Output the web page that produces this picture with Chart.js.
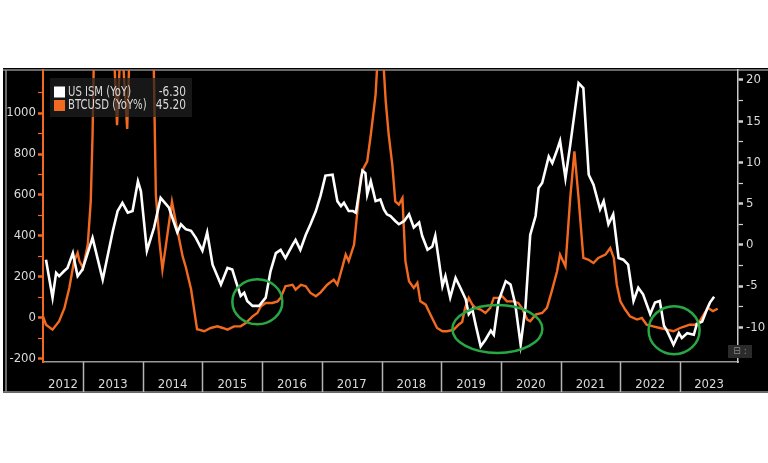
<!DOCTYPE html>
<html>
<head>
<meta charset="utf-8">
<title>US ISM vs BTCUSD YoY</title>
<script src="https://cdn.jsdelivr.net/npm/chart.js@4.4.1/dist/chart.umd.min.js"></script>
<style>
  html, body { margin: 0; padding: 0; background: #fff; }
  #wrap { width: 768px; height: 463px; }
</style>
</head>
<body>
<div id="wrap"><canvas id="chart" width="768" height="463"></canvas></div>
<script>
// US ISM, YoY change (right axis) - x in decimal years
const ismYears = [
  2012.38, 2012.49, 2012.55, 2012.60, 2012.68, 2012.74, 2012.83, 2012.91, 2012.99, 2013.16,
  2013.33, 2013.50, 2013.58, 2013.66, 2013.75, 2013.83, 2013.92, 2013.97, 2014.07, 2014.19,
  2014.30, 2014.44, 2014.58, 2014.64, 2014.72, 2014.81, 2014.89, 2015.00, 2015.08, 2015.17,
  2015.31, 2015.42, 2015.50, 2015.56, 2015.64, 2015.70, 2015.75, 2015.84, 2015.95, 2016.06,
  2016.14, 2016.23, 2016.31, 2016.39, 2016.51, 2016.56, 2016.64, 2016.73, 2016.81, 2016.90,
  2016.98, 2017.06, 2017.18, 2017.26, 2017.32, 2017.37, 2017.45, 2017.52, 2017.57, 2017.68,
  2017.73, 2017.76, 2017.82, 2017.90, 2017.98, 2018.04, 2018.09, 2018.15, 2018.23, 2018.29,
  2018.38, 2018.46, 2018.54, 2018.63, 2018.68, 2018.77, 2018.85, 2018.90, 2018.96, 2019.02,
  2019.07, 2019.15, 2019.24, 2019.32, 2019.41, 2019.46, 2019.52, 2019.58, 2019.66, 2019.74,
  2019.83, 2019.88, 2019.96, 2020.08, 2020.16, 2020.24, 2020.33, 2020.41, 2020.49, 2020.58,
  2020.63, 2020.69, 2020.80, 2020.86, 2020.94, 2020.99, 2021.08, 2021.16, 2021.30, 2021.38,
  2021.47, 2021.55, 2021.66, 2021.72, 2021.80, 2021.88, 2021.97, 2022.05, 2022.13, 2022.22,
  2022.30, 2022.38, 2022.50, 2022.58, 2022.66, 2022.73, 2022.78, 2022.89, 2022.98, 2023.03,
  2023.12, 2023.23, 2023.28, 2023.37, 2023.45, 2023.50, 2023.57
];
const ismValues = [
  -1.8, -6.4, -3.4, -3.8, -3.2, -2.8, -1.0, -3.8, -3.0, 0.85,
  -4.2, 1.7, 4.1, 5.1, 3.9, 4.1, 7.7, 6.5, -0.7, 2.1,
  5.7, 4.5, 1.5, 2.5, 1.9, 1.7, 0.85, -0.7, 1.5, -2.4,
  -4.8, -2.8, -3.0, -4.4, -6.2, -5.8, -6.8, -7.4, -7.4, -6.4,
  -3.2, -1.0, -0.6, -1.6, 0.0, 0.6, -0.6, 1.2, 2.5, 4.1,
  6.0, 8.4, 8.5, 5.3, 4.7, 5.1, 4.1, 4.1, 3.9, 9.0,
  8.7, 6.1, 7.7, 5.3, 5.5, 4.3, 3.7, 3.5, 2.9, 2.5,
  2.9, 3.7, 2.1, 2.7, 1.1, -0.6, -0.2, 1.1, -1.9, -5.0,
  -3.8, -6.4, -4.0, -5.2, -6.6, -8.4, -7.8, -9.8, -12.3, -11.5,
  -10.4, -10.9, -6.8, -4.4, -4.8, -7.2, -12.1, -7.6, 1.2, 3.5,
  6.9, 7.5, 10.7, 9.9, 11.5, 12.6, 8.1, 12.1, 19.6, 19.0,
  8.5, 7.3, 4.3, 5.3, 2.5, 3.7, -1.6, -1.8, -2.4, -6.8,
  -5.2, -6.0, -8.4, -7.0, -6.8, -9.8, -10.4, -12.1, -10.7, -11.3,
  -10.7, -10.9, -9.6, -9.3, -7.8, -7.0, -6.3
];

// BTCUSD, YoY % (left axis)
const btcYears = [
  2012.33, 2012.38, 2012.49, 2012.60, 2012.69, 2012.77, 2012.85, 2012.91, 2012.94, 2013.00,
  2013.08, 2013.13, 2013.16, 2013.19, 2013.25, 2013.33, 2013.42, 2013.49, 2013.57, 2013.64,
  2013.74, 2013.80, 2013.92, 2014.05, 2014.17, 2014.22, 2014.28, 2014.33, 2014.39, 2014.49,
  2014.58, 2014.67, 2014.72, 2014.81, 2014.91, 2014.94, 2015.03, 2015.14, 2015.25, 2015.34,
  2015.42, 2015.53, 2015.64, 2015.73, 2015.84, 2015.92, 2015.98, 2016.06, 2016.17, 2016.26,
  2016.31, 2016.39, 2016.51, 2016.56, 2016.65, 2016.73, 2016.81, 2016.90, 2016.98, 2017.09,
  2017.20, 2017.26, 2017.34, 2017.40, 2017.45, 2017.54, 2017.59, 2017.65, 2017.70, 2017.76,
  2017.82, 2017.90, 2017.96, 2018.01, 2018.07, 2018.12, 2018.18, 2018.23, 2018.29, 2018.35,
  2018.40, 2018.46, 2018.54, 2018.60, 2018.65, 2018.74, 2018.82, 2018.93, 2019.02, 2019.10,
  2019.21, 2019.29, 2019.35, 2019.40, 2019.46, 2019.52, 2019.57, 2019.66, 2019.74, 2019.82,
  2019.88, 2019.96, 2020.02, 2020.10, 2020.21, 2020.29, 2020.35, 2020.44, 2020.49, 2020.58,
  2020.69, 2020.77, 2020.85, 2020.94, 2020.99, 2021.08, 2021.16, 2021.23, 2021.30, 2021.38,
  2021.46, 2021.55, 2021.63, 2021.75, 2021.83, 2021.89, 2021.94, 2022.00, 2022.08, 2022.16,
  2022.28, 2022.36, 2022.44, 2022.55, 2022.66, 2022.78, 2022.89, 2023.00, 2023.08, 2023.16,
  2023.25, 2023.33, 2023.41, 2023.47, 2023.55, 2023.63
];
const btcValues = [
  8, -33, -57, -16, 49, 146, 277, 317, 277, 244,
  358, 571, 894, 1400, 2500, 3000, 2000, 1500, 941, 1400,
  922, 1500, 5000, 3000, 1500, 601, 375, 236, 358, 567,
  429, 299, 250, 140, -55, -57, -65, -49, -41, -49,
  -57, -41, -41, -24, 8, 24, 57, 73, 73, 81,
  98, 155, 162, 138, 162, 155, 122, 106, 125, 162,
  187, 162, 244, 309, 277, 358, 504, 683, 732, 764,
  894, 1089, 1400, 1350, 1057, 894, 748, 569, 553, 585,
  277, 179, 146, 171, 81, 65, 16, -49, -65, -65,
  -57, -33, -20, 49, 98, 65, 49, 41, 24, 49,
  98, 98, 106, 81, 81, 73, 49, -8, -16, 16,
  24, 49, 130, 228, 309, 252, 585, 813, 585, 293,
  285, 268, 293, 309, 341, 293, 162, 81, 41, 8,
  -8, 0, -33, -41, -49, -57, -65, -49, -41, -33,
  -33, -16, 24, 49, 33, 45
];

const yearLabels = ['2012', '2013', '2014', '2015', '2016', '2017', '2018', '2019', '2020', '2021', '2022', '2023'];
const leftTicks = [-200, 0, 200, 400, 600, 800, 1000];
const rightTicks = [-10, -5, 0, 5, 10, 15, 20];
const legendNames = ['US ISM (YoY)', 'BTCUSD (YoY%)'];
const legendLast = ['-6.30', '45.20'];

// green rings drawn on the chart, centred on (year, ISM value)
const ringYears = [2015.92, 2019.94, 2022.90];
const ringValues = [-6.9, -10.2, -10.35];

const X_MIN = 2012.33, X_MAX = 2023.97;
const FONT = "'DejaVu Sans Condensed', 'Liberation Sans Narrow', 'Liberation Sans', sans-serif";
const ORANGE = '#f26a1f';
const WHITE = '#ffffff';
const TEXT = '#dadada';

const toPoints = (xs, ys) => xs.map((x, i) => ({ x: x, y: ys[i] }));

// squeezed text, the terminal font is narrower than anything installed
function narrowText(ctx, str, x, y, align, squeeze) {
  ctx.save();
  ctx.translate(x, y);
  ctx.scale(squeeze, 1);
  ctx.textAlign = align;
  ctx.fillText(str, 0, 0);
  ctx.restore();
}

// black panel behind everything
const panelPlugin = {
  id: 'panel',
  beforeDraw(chart) {
    const { ctx, chartArea: a } = chart;
    const xs = chart.scales.x;
    const top = a.top - 2;
    const bottom = xs.bottom + 1;
    ctx.save();
    ctx.fillStyle = '#000';
    ctx.fillRect(3, top, chart.width - 3, bottom - top);
    ctx.strokeStyle = '#8c8c8c';
    ctx.lineWidth = 1.5;
    ctx.beginPath();
    ctx.moveTo(3, a.top);
    ctx.lineTo(chart.width, a.top);
    ctx.moveTo(3, xs.bottom);
    ctx.lineTo(chart.width, xs.bottom);
    ctx.moveTo(6, a.top);
    ctx.lineTo(6, xs.bottom);
    ctx.stroke();
    ctx.restore();
  }
};

const overlayPlugin = {
  id: 'overlay',
  afterDatasetsDraw(chart) {
    const { ctx, chartArea: a } = chart;
    const xs = chart.scales.x, yr = chart.scales.y1;

    // green rings
    const radii = [[25, 22.5], [45, 24], [25.5, 24]];
    ctx.save();
    ctx.strokeStyle = '#27a844';
    ctx.lineWidth = 2.5;
    ringYears.forEach((yv, i) => {
      const cx = xs.getPixelForValue(yv);
      const cy = yr.getPixelForValue(ringValues[i]);
      ctx.beginPath();
      ctx.ellipse(cx, cy, radii[i][0], radii[i][1], 0, 0, Math.PI * 2);
      ctx.stroke();
    });

    // legend box
    ctx.fillStyle = 'rgba(32,32,32,0.72)';
    ctx.fillRect(a.left + 7, a.top + 8, 142, 39);
    ctx.font = '14px ' + FONT;
    ctx.textBaseline = 'middle';
    [WHITE, ORANGE].forEach((c, i) => {
      const y = a.top + 22 + i * 13.5;
      ctx.fillStyle = c;
      ctx.fillRect(a.left + 11, y - 5.5, 11, 11);
      ctx.fillStyle = TEXT;
      narrowText(ctx, legendNames[i], a.left + 25, y, 'left', 0.8);
      narrowText(ctx, legendLast[i], a.left + 143, y, 'right', 0.84);
    });
    ctx.restore();
  },
  afterDraw(chart) {
    const { ctx, chartArea: a } = chart;
    const xs = chart.scales.x;
    ctx.save();
    // year separators in the date band
    ctx.strokeStyle = '#b5b5b5';
    ctx.lineWidth = 1.5;
    yearLabels.forEach(y => {
      const v = Number(y);
      if (v <= X_MIN) return;
      const px = Math.round(xs.getPixelForValue(v)) + 0.5;
      ctx.beginPath();
      ctx.moveTo(px, xs.top);
      ctx.lineTo(px, xs.bottom);
      ctx.stroke();
    });
    // small zoom widget, bottom right
    ctx.fillStyle = '#2b2b2b';
    ctx.fillRect(a.right - 10, a.bottom - 17, 24, 13);
    ctx.fillStyle = '#8a8a8a';
    ctx.font = '10px ' + FONT;
    ctx.textAlign = 'center';
    ctx.textBaseline = 'middle';
    ctx.fillText('\u229F :', a.right + 2, a.bottom - 10.5);
    ctx.restore();
  }
};

new Chart(document.getElementById('chart'), {
  type: 'line',
  data: {
    datasets: [
      {
        label: legendNames[0],
        data: toPoints(ismYears, ismValues),
        yAxisID: 'y1',
        borderColor: WHITE,
        borderWidth: 2.6,
        pointRadius: 0,
        tension: 0
      },
      {
        label: legendNames[1],
        data: toPoints(btcYears, btcValues),
        yAxisID: 'y',
        borderColor: ORANGE,
        borderWidth: 2.4,
        pointRadius: 0,
        tension: 0
      }
    ]
  },
  options: {
    responsive: false,
    animation: false,
    devicePixelRatio: 1,
    layout: { padding: { left: 4, right: 0, top: 70, bottom: 71 } },
    plugins: {
      legend: { display: false },
      tooltip: { enabled: false }
    },
    scales: {
      x: {
        type: 'linear',
        min: X_MIN,
        max: X_MAX,
        afterBuildTicks(scale) {
          scale.ticks = yearLabels.map(y => {
            const s = Math.max(Number(y), X_MIN);
            const e = Math.min(Number(y) + 1, X_MAX);
            return { value: (s + e) / 2 };
          });
        },
        afterFit(scale) { scale.height = 30; },
        grid: { display: false, drawTicks: false },
        border: { display: true, color: '#9a9a9a', width: 1.5 },
        ticks: {
          autoSkip: false,
          maxRotation: 0,
          padding: 15,
          color: TEXT,
          font: { family: FONT, size: 13 },
          callback: (v, i) => yearLabels[i]
        }
      },
      y: {
        position: 'left',
        min: -215,
        max: 1210,
        afterBuildTicks(scale) {
          const vals = leftTicks.concat(leftTicks.map(v => v + 100)).sort((p, q) => p - q);
          scale.ticks = vals.map(v => ({ value: v }));
        },
        afterFit(scale) { scale.width = 39; },
        grid: {
          drawOnChartArea: false,
          color: ORANGE,
          tickLength: 5,
          tickWidth: ctx => (ctx.tick && leftTicks.includes(ctx.tick.value) ? 2.5 : 1.2)
        },
        border: { color: ORANGE, width: 2 },
        ticks: {
          padding: 2,
          color: TEXT,
          font: { family: FONT, size: 13 },
          callback: v => (leftTicks.includes(v) ? String(v) : '')
        }
      },
      y1: {
        position: 'right',
        min: -14.2,
        max: 21.2,
        afterBuildTicks(scale) {
          const vals = rightTicks.concat(rightTicks.map(v => v - 2.5)).sort((p, q) => p - q);
          scale.ticks = vals.map(v => ({ value: v }));
        },
        afterFit(scale) { scale.width = 30; },
        grid: {
          drawOnChartArea: false,
          color: '#d0d0d0',
          tickLength: 5,
          tickWidth: ctx => (ctx.tick && rightTicks.includes(ctx.tick.value) ? 2.5 : 1.2)
        },
        border: { color: '#c8c8c8', width: 1.5 },
        ticks: {
          padding: 3,
          color: TEXT,
          font: { family: FONT, size: 13 },
          callback: v => (rightTicks.includes(v) ? String(v) : '')
        }
      }
    }
  },
  plugins: [panelPlugin, overlayPlugin]
});
</script>
</body>
</html>
